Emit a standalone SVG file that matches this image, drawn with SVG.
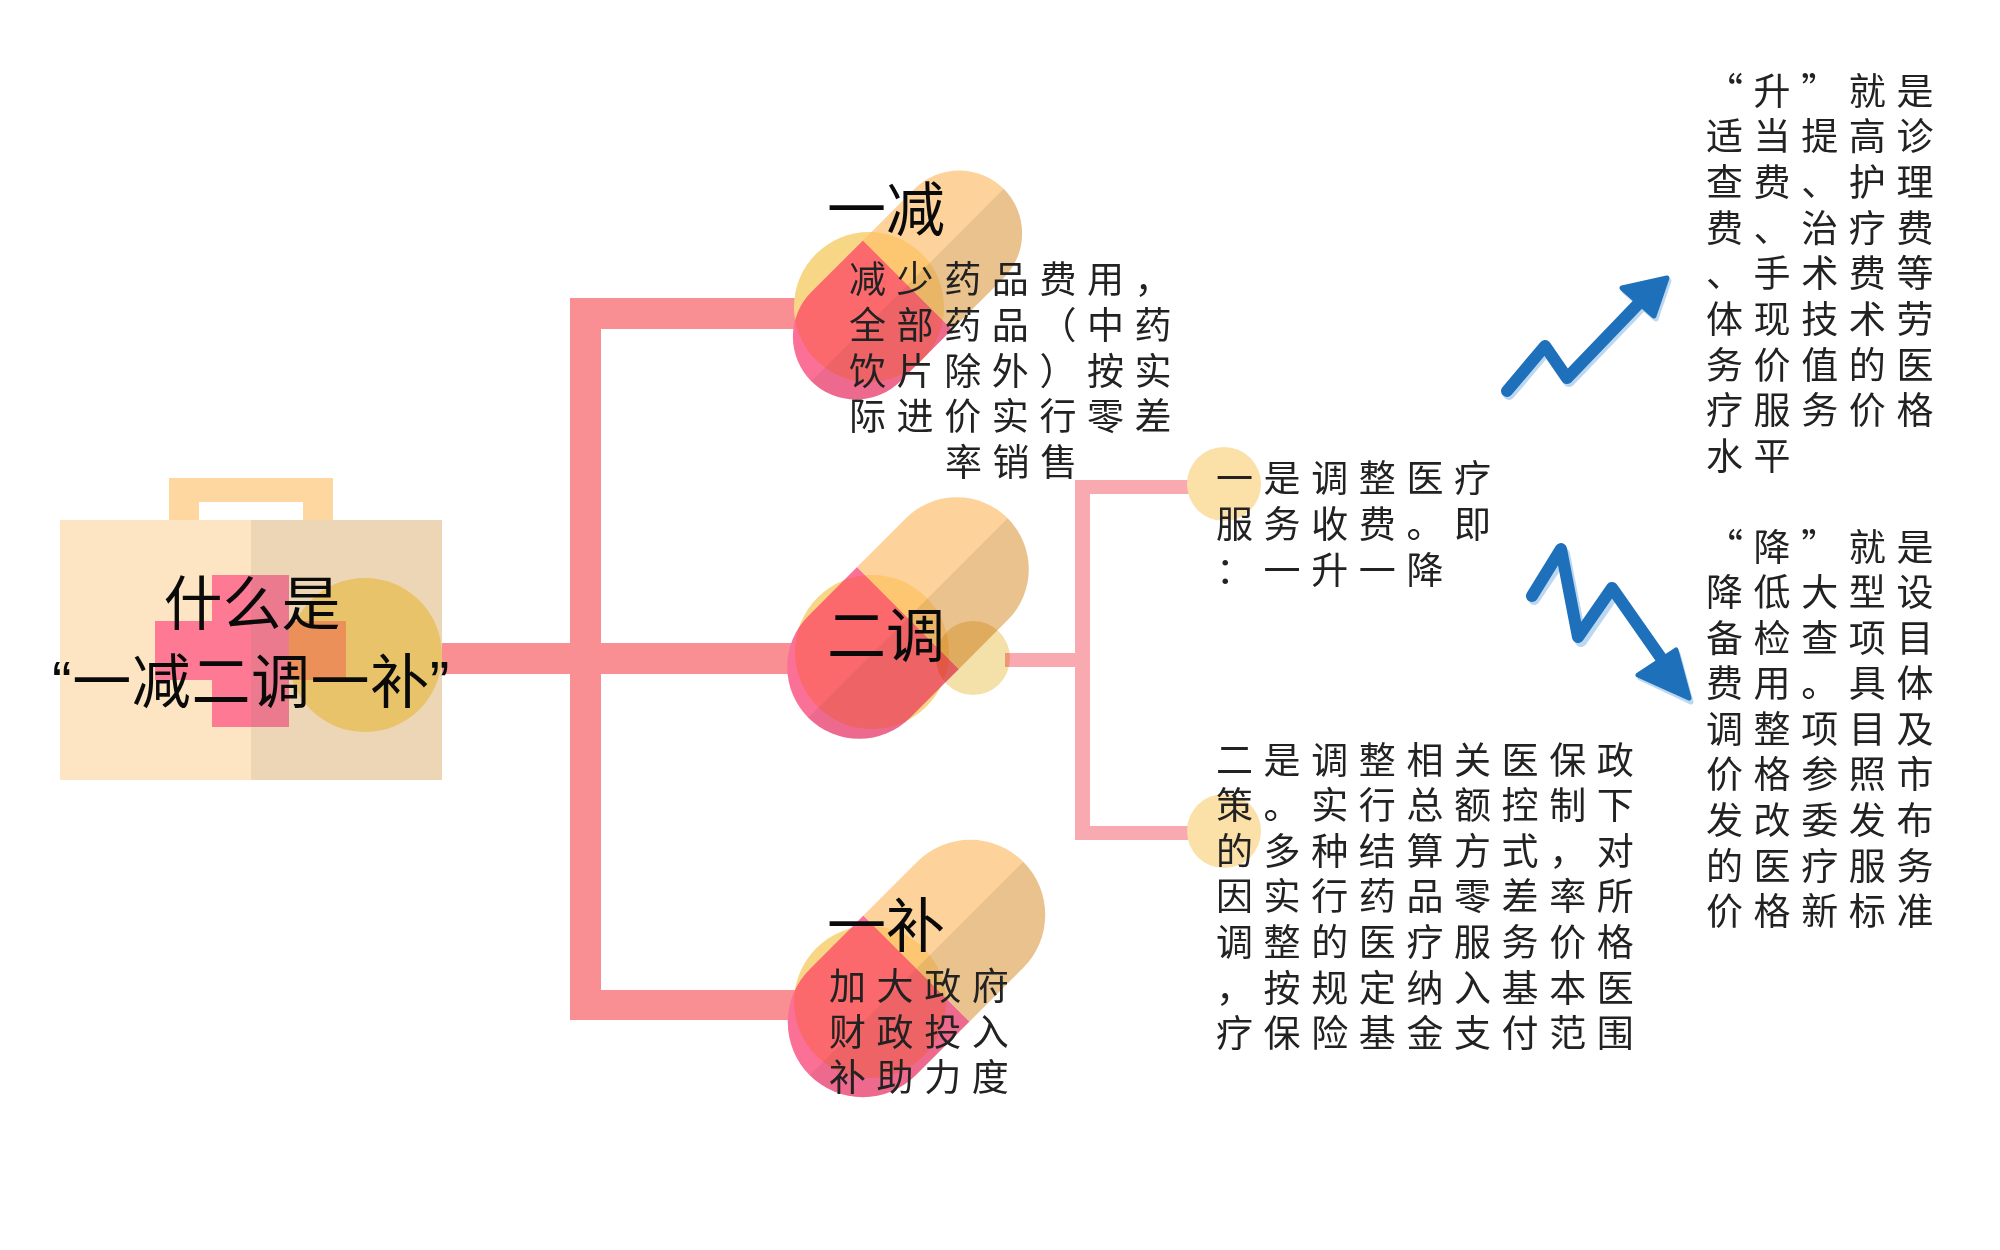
<svg xmlns="http://www.w3.org/2000/svg" width="2000" height="1250" viewBox="0 0 2000 1250">
<style>
.t{font-family:"Liberation Sans","Noto Sans CJK SC",sans-serif;font-size:59px;fill:#0a0a0a}
.b{font-family:"Noto Sans CJK SC",sans-serif;font-size:37px;letter-spacing:10.6px;fill:#222}
.peach{fill:#fdd39b}.pink{fill:#fb7096}
.shade1{fill:#000;opacity:.055}.shade2{fill:#000;opacity:.08}
.under{fill:#f7e5ba}.over{fill:#fff0b8;mix-blend-mode:multiply}
.thick{fill:#f98e93}.thin{fill:#f9aab0}
.arrow{fill:none;stroke-width:12;stroke-linejoin:round;stroke-linecap:round}
.head{stroke-width:5;stroke-linejoin:round}
.dot{fill:#fbe0a8}
</style>
<rect width="2000" height="1250" fill="#fff"/>
<g id="connectors">
<rect class="thick" x="442" y="643" width="370" height="31"/>
<path class="thick" d="M570 298H812V329H601V990H812V1020H570Z"/>
<rect class="thin" x="1005" y="653" width="75" height="14"/>
<path class="thin" d="M1075 480H1195V494H1090V826H1195V840H1075Z"/>
</g>
<g id="node-root">
<path d="M169 520V478H333V520H303V502H199V520Z" fill="#fdd6a0"/>
<rect x="60" y="520" width="191" height="260" fill="#fde5c3"/>
<rect x="251" y="520" width="191" height="260" fill="#ecd6b6"/>
<circle cx="365" cy="655" r="77" fill="#e8c36a"/>
<path d="M212 575H251V727H212V680H155V621H212Z" fill="#fe7a94"/>
<path d="M251 575H289V727H251Z" fill="#ec7a8f"/>
<path d="M289 621H346V680H289Z" fill="#ea9058"/>
<text class="t" x="252" y="625" text-anchor="middle">什么是</text>
<text class="t" x="251" y="703" text-anchor="middle" style="letter-spacing:.6px">“一减二调一补”</text>
</g>
<g id="node-jian">
<circle class="under" cx="869" cy="307" r="75"/>
<g transform="translate(907.5 285) rotate(-45)">
<path d="M0 -63H-73A63 63 0 0 0 -73 63H0Z" class="pink"/>
<path d="M0 -63H73A63 63 0 0 1 73 63H0Z" class="peach"/>
<path d="M-136 0H0V63H-73A63 63 0 0 1 -136 0Z" class="shade1"/>
<path d="M0 0H136A63 63 0 0 1 73 63H0Z" class="shade2"/>
</g>
<circle class="over" cx="869" cy="307" r="75"/>
<text class="t" x="827" y="231">一减</text>
<text class="b" x="849" y="293">减少药品费用，</text>
<text class="b" x="849" y="339">全部药品（中药</text>
<text class="b" x="849" y="385">饮片除外）按实</text>
<text class="b" x="849" y="430">际进价实行零差</text>
<text class="b" x="945" y="476">率销售</text>
</g>
<g id="node-tiao">
<circle class="under" cx="872" cy="652" r="77"/>
<g transform="translate(908 618) rotate(-45)">
<path d="M0 -72H-69A72 72 0 0 0 -69 72H0Z" class="pink"/>
<path d="M0 -72H69A72 72 0 0 1 69 72H0Z" class="peach"/>
<path d="M-141 0H0V72H-69A72 72 0 0 1 -141 0Z" class="shade1"/>
<path d="M0 0H141A72 72 0 0 1 69 72H0Z" class="shade2"/>
</g>
<circle class="over" cx="872" cy="652" r="77"/>
<circle cx="973" cy="658" r="37" fill="#f4e1aa" style="mix-blend-mode:multiply"/>
<text class="t" x="827" y="657">二调</text>
</g>
<g id="node-bu">
<circle class="under" cx="870" cy="1002" r="76"/>
<g transform="translate(916.5 968.5) rotate(-45)">
<path d="M0 -75H-76A75 75 0 0 0 -76 75H0Z" class="pink"/>
<path d="M0 -75H76A75 75 0 0 1 76 75H0Z" class="peach"/>
<path d="M-151 0H0V75H-76A75 75 0 0 1 -151 0Z" class="shade1"/>
<path d="M0 0H151A75 75 0 0 1 76 75H0Z" class="shade2"/>
</g>
<circle class="over" cx="870" cy="1002" r="76"/>
<text class="t" x="827" y="947">一补</text>
<text class="b" x="829" y="1000">加大政府</text>
<text class="b" x="829" y="1046">财政投入</text>
<text class="b" x="829" y="1091">补助力度</text>
</g>
<g id="node-one">
<circle class="dot" cx="1224" cy="484" r="37"/>
<text class="b" x="1216" y="492">一是调整医疗</text>
<text class="b" x="1216" y="538">服务收费。即</text>
<text class="b" x="1216" y="584">：一升一降</text>
</g>
<g id="node-two">
<circle class="dot" cx="1224" cy="831" r="37"/>
<text class="b" x="1216" y="774">二是调整相关医保政</text>
<text class="b" x="1216" y="819">策。实行总额控制下</text>
<text class="b" x="1216" y="865">的多种结算方式，对</text>
<text class="b" x="1216" y="910">因实行药品零差率所</text>
<text class="b" x="1216" y="956">调整的医疗服务价格</text>
<text class="b" x="1216" y="1002">，按规定纳入基本医</text>
<text class="b" x="1216" y="1047">疗保险基金支付范围</text>
</g>
<g id="node-up">
<path class="arrow" d="M1509 394L1547 349L1569 381L1644 303" stroke="#bcd8f0"/>
<path class="head" d="M1624 291L1669 281L1656 319Z" fill="#bcd8f0" stroke="#bcd8f0"/>
<path class="arrow" d="M1507 391L1545 346L1567 378L1642 300" stroke="#1f70bb"/>
<path class="head" d="M1622 288L1667 278L1654 316Z" fill="#1f70bb" stroke="#1f70bb"/>
<text class="b" x="1706" y="105">“升”就是</text>
<text class="b" x="1706" y="150">适当提高诊</text>
<text class="b" x="1706" y="196">查费、护理</text>
<text class="b" x="1706" y="242">费、治疗费</text>
<text class="b" x="1706" y="287">、手术费等</text>
<text class="b" x="1706" y="333">体现技术劳</text>
<text class="b" x="1706" y="379">务价值的医</text>
<text class="b" x="1706" y="424">疗服务价格</text>
<text class="b" x="1706" y="470">水平</text>
</g>
<g id="node-down">
<path class="arrow" d="M1534 599L1564 554L1581 641L1615 592L1664 662" stroke="#bcd8f0"/>
<path class="head" d="M1640 678L1678 654L1691 702Z" fill="#bcd8f0" stroke="#bcd8f0"/>
<path class="arrow" d="M1532 596L1561 549L1578 637L1612 588L1661 658" stroke="#1f70bb"/>
<path class="head" d="M1638 675L1676 650L1689 698Z" fill="#1f70bb" stroke="#1f70bb"/>
<text class="b" x="1706" y="561">“降”就是</text>
<text class="b" x="1706" y="606">降低大型设</text>
<text class="b" x="1706" y="652">备检查项目</text>
<text class="b" x="1706" y="697">费用。具体</text>
<text class="b" x="1706" y="743">调整项目及</text>
<text class="b" x="1706" y="788">价格参照市</text>
<text class="b" x="1706" y="834">发改委发布</text>
<text class="b" x="1706" y="880">的医疗服务</text>
<text class="b" x="1706" y="925">价格新标准</text>
</g>
</svg>
